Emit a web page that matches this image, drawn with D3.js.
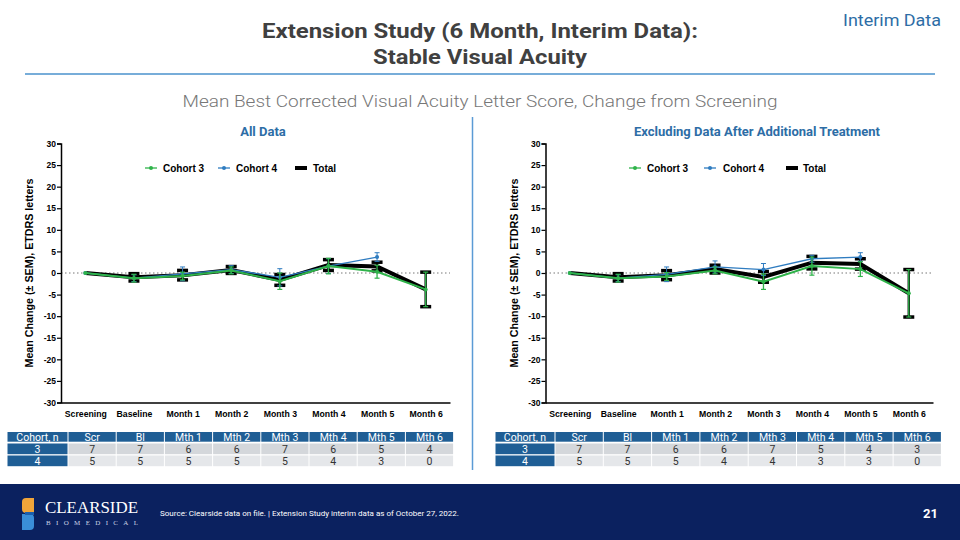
<!DOCTYPE html>
<html><head><meta charset="utf-8">
<script src="https://cdn.jsdelivr.net/npm/d3@7/dist/d3.min.js"></script>
<style>
html,body{margin:0;padding:0;background:#fff;}
svg{display:block;}
</style></head>
<body>
<svg id="c" width="960" height="540"></svg>
<script>
// ---------- DATA ----------
const categories = ["Screening","Baseline","Month 1","Month 2","Month 3","Month 4","Month 5","Month 6"];
const yTicks = [-30,-25,-20,-15,-10,-5,0,5,10,15,20,25,30];
const seriesNames = ["Cohort 3","Cohort 4","Total"];

// All Data
const allC3    = [0, -1.2, -0.7, 0.6, -1.9, 1.6, 0.3, -3.8];
const allC3Sem = [0, 0.9, 0.9, 0.8, 1.9, 1.8, 1.5, 4.0];
const allC4    = [0, -1.2, -0.2, 0.8, -1.0, 1.6, 3.7, null];
const allC4Sem = [0, 0.8, 1.6, 0.9, 2.0, 1.7, 1.0, null];
const allTot   = [0, -1.0, -0.5, 0.7, -1.6, 1.85, 1.5, -3.8];
const allTotSem= [0, 0.85, 1.1, 0.8, 1.25, 1.25, 1.0, 4.0];

// Excluding Data After Additional Treatment
const exC3    = [0, -1.2, -0.8, 0.6, -2.0, 1.6, 0.9, -4.7];
const exC3Sem = [0, 0.9, 0.9, 0.8, 1.8, 2.1, 1.7, 5.5];
const exC4    = [0, -1.2, -0.3, 1.4, 0.8, 3.3, 3.7, null];
const exC4Sem = [0, 0.8, 1.7, 1.4, 1.4, 0.8, 1.0, null];
const exTot   = [0, -1.0, -0.5, 0.9, -0.9, 2.4, 2.1, -4.7];
const exTotSem= [0, 0.85, 1.05, 0.9, 1.25, 1.45, 1.2, 5.5];

// n tables
const tableHeader = ["Cohort, n","Scr","Bl","Mth 1","Mth 2","Mth 3","Mth 4","Mth 5","Mth 6"];
const tableRowLabels = ["3","4"];
const allN3 = [7,7,6,6,7,6,5,4];
const allN4 = [5,5,5,5,5,4,3,0];
const exN3  = [7,7,6,6,7,5,4,3];
const exN4  = [5,5,5,4,4,3,3,0];

// ---------- STYLE ----------
const GREEN = "#2fb34a", BLUE = "#2f7cc0", BLACK = "#000";
const TITLE_BLUE = "#2d6da6", NAVY = "#0b215f", HEAD_BLUE = "#1f5e95";
const svg = d3.select("#c");

// ---------- HEADER ----------
svg.append("text").attr("x",480).attr("y",38).attr("text-anchor","middle")
  .attr("font-family","Roboto").attr("font-weight","700").attr("font-size",21).attr("fill","#404040")
  .attr("textLength",436).attr("lengthAdjust","spacingAndGlyphs")
  .text("Extension Study (6 Month, Interim Data):");
svg.append("text").attr("x",480).attr("y",64).attr("text-anchor","middle")
  .attr("font-family","Roboto").attr("font-weight","700").attr("font-size",21).attr("fill","#404040")
  .attr("textLength",214).attr("lengthAdjust","spacingAndGlyphs")
  .text("Stable Visual Acuity");
svg.append("text").attr("x",941).attr("y",26).attr("text-anchor","end")
  .attr("font-family","Roboto").attr("font-size",16).attr("fill",TITLE_BLUE)
  .attr("textLength",98).attr("lengthAdjust","spacingAndGlyphs")
  .text("Interim Data");
svg.append("line").attr("x1",25).attr("x2",935).attr("y1",74).attr("y2",74)
  .attr("stroke","#4a92cc").attr("stroke-width",1.5);
svg.append("text").attr("x",480).attr("y",107).attr("text-anchor","middle")
  .attr("font-family","Roboto").attr("font-weight","300").attr("font-size",17).attr("fill","#777")
  .attr("textLength",595).attr("lengthAdjust","spacingAndGlyphs")
  .text("Mean Best Corrected Visual Acuity Letter Score, Change from Screening");
svg.append("line").attr("x1",472.5).attr("x2",472.5).attr("y1",117).attr("y2",470)
  .attr("stroke","#5b9bd5").attr("stroke-width",1.5);

// ---------- CHART ----------
function drawChart(o){
  const g = svg.append("g");
  const x = d3.scalePoint().domain(categories).range([o.x0, o.x1]).padding(0.5);
  const y = d3.scaleLinear().domain([-30,30]).range([402.5,143.5]);

  g.append("text").attr("x",o.titleX).attr("y",136).attr("text-anchor","middle")
    .attr("font-family","Roboto").attr("font-weight","700").attr("font-size",13).attr("fill",TITLE_BLUE)
    .text(o.title);

  // zero line
  g.append("line").attr("x1",o.x0).attr("x2",o.x1).attr("y1",y(0)).attr("y2",y(0))
    .attr("stroke","#777").attr("stroke-width",1).attr("stroke-dasharray","1.5,2.5");

  // axes
  const ya = g.append("g").attr("transform",`translate(${o.x0},0)`)
    .call(d3.axisLeft(y).tickValues(yTicks).tickSize(4).tickFormat(d=>String(d)));
  ya.select(".domain").attr("stroke","#000").attr("stroke-width",1.5);
  ya.selectAll(".tick line").attr("stroke","#000").attr("stroke-width",1.2);
  ya.selectAll(".tick text").attr("font-family","Liberation Sans, Arial").attr("font-weight","700")
    .attr("font-size",8.5).attr("fill","#000").attr("x",-5);
  const xa = g.append("g").attr("transform",`translate(0,${y(-30)})`)
    .call(d3.axisBottom(x).tickSize(0).tickSizeOuter(0));
  xa.select(".domain").attr("stroke","#000").attr("stroke-width",1.5);
  xa.selectAll(".tick text").attr("font-family","Liberation Sans, Arial").attr("font-weight","700")
    .attr("font-size",8.7).attr("fill","#000").attr("dy","1.3em");

  g.append("text").attr("transform",`translate(${o.x0-28},${y(0)}) rotate(-90)`)
    .attr("text-anchor","middle").attr("font-family","Liberation Sans, Arial").attr("font-weight","700")
    .attr("font-size",10).attr("fill","#000")
    .attr("textLength",189).attr("lengthAdjust","spacingAndGlyphs")
    .text("Mean Change (± SEM), ETDRS letters");

  // series
  const series = [
    {name:"Total", v:o.tot, s:o.totSem, color:BLACK, lw:4, ew:2.4, cap:11, capw:3.5, r:0},
    {name:"Cohort 4", v:o.c4, s:o.c4Sem, color:BLUE, lw:1.3, ew:1, cap:5, capw:1, r:2},
    {name:"Cohort 3", v:o.c3, s:o.c3Sem, color:GREEN, lw:2, ew:1.3, cap:5, capw:1.2, r:2}
  ];
  series.forEach(sr=>{
    const pts = categories.map((c,i)=>({c, v:sr.v[i], s:sr.s[i]})).filter(p=>p.v!==null);
    const sg = g.append("g");
    pts.filter(p=>p.s>0).forEach(p=>{
      sg.append("line").attr("x1",x(p.c)).attr("x2",x(p.c)).attr("y1",y(p.v-p.s)).attr("y2",y(p.v+p.s))
        .attr("stroke",sr.color).attr("stroke-width",sr.ew);
      [p.v-p.s,p.v+p.s].forEach(e=>{
        sg.append("line").attr("x1",x(p.c)-sr.cap/2).attr("x2",x(p.c)+sr.cap/2).attr("y1",y(e)).attr("y2",y(e))
          .attr("stroke",sr.color).attr("stroke-width",sr.capw);
      });
    });
    sg.append("path").datum(pts)
      .attr("d",d3.line().x(p=>x(p.c)).y(p=>y(p.v)))
      .attr("fill","none").attr("stroke",sr.color).attr("stroke-width",sr.lw).attr("stroke-linejoin","miter");
    if(sr.r>0){
      sg.selectAll("circle").data(pts).join("circle")
        .attr("cx",p=>x(p.c)).attr("cy",p=>y(p.v)).attr("r",sr.r).attr("fill",sr.color);
    }
  });

  // legend
  const leg = [
    {name:"Cohort 3", color:GREEN, lx:o.leg[0], tx:o.leg[1], type:"pt"},
    {name:"Cohort 4", color:BLUE, lx:o.leg[2], tx:o.leg[3], type:"pt"},
    {name:"Total", color:BLACK, lx:o.leg[4], tx:o.leg[5], type:"thick"}
  ];
  leg.forEach(l=>{
    if(l.type==="pt"){
      g.append("line").attr("x1",l.lx).attr("x2",l.lx+12).attr("y1",168).attr("y2",168)
        .attr("stroke",l.color).attr("stroke-width",1.3);
      g.append("circle").attr("cx",l.lx+6).attr("cy",168).attr("r",2).attr("fill",l.color);
    } else {
      g.append("line").attr("x1",l.lx).attr("x2",l.lx+12).attr("y1",168).attr("y2",168)
        .attr("stroke",l.color).attr("stroke-width",4);
    }
    g.append("text").attr("x",l.tx).attr("y",171.5).attr("font-family","Liberation Sans, Arial")
      .attr("font-weight","700").attr("font-size",10).attr("fill","#000").text(l.name);
  });
}

drawChart({x0:61, x1:450, titleX:263, title:"All Data",
  c3:allC3, c3Sem:allC3Sem, c4:allC4, c4Sem:allC4Sem, tot:allTot, totSem:allTotSem,
  leg:[145,163,218,236,295,313]});
drawChart({x0:545.5, x1:933, titleX:757, title:"Excluding Data After Additional Treatment",
  c3:exC3, c3Sem:exC3Sem, c4:exC4, c4Sem:exC4Sem, tot:exTot, totSem:exTotSem,
  leg:[629,647,704,723,786,803]});

// ---------- TABLES ----------
function drawTable(x0, firstW, colW, n3, n4){
  const g = svg.append("g");
  const rows = [tableHeader, [tableRowLabels[0], ...n3], [tableRowLabels[1], ...n4]];
  const rowY = [432, 443.5, 455.5], rowH = [10.5, 11.5, 11.5];
  rows.forEach((r,ri)=>{
    r.forEach((cell,ci)=>{
      const cx = ci===0 ? x0 : x0+firstW+(ci-1)*colW;
      const w = ci===0 ? firstW : colW;
      const isHead = ri===0 || ci===0;
      const fill = isHead ? HEAD_BLUE : (ri===1 ? "#d4d7db" : "#e5e7ea");
      g.append("rect").attr("x",cx+0.5).attr("y",rowY[ri]).attr("width",w-1).attr("height",rowH[ri]-0.8)
        .attr("fill",fill);
      g.append("text").attr("x",cx+w/2).attr("y",rowY[ri]+rowH[ri]/2+3.5).attr("text-anchor","middle")
        .attr("font-family","Roboto").attr("font-size",10.5).attr("fill",isHead?"#fff":"#333")
        .text(cell);
    });
  });
}
drawTable(7, 61, 48.2, allN3, allN4);
drawTable(495, 60, 48.3, exN3, exN4);

// ---------- FOOTER ----------
svg.append("rect").attr("x",0).attr("y",484).attr("width",960).attr("height",56).attr("fill",NAVY);
// logo mark
const lg = svg.append("g");
lg.append("path").attr("d","M34,498 L26,498 Q22,498 22,502 L22,509 Q22,513 26,513 L34,513 Z").attr("fill","#f0a43a");
lg.append("path").attr("d","M22,514 L30,514 Q34,514 34,518 L34,526 Q34,530 30,530 L22,530 Z").attr("fill","#3a8ed8");
lg.append("rect").attr("x",25).attr("y",512).attr("width",9).attr("height",3).attr("fill","#1c5fae");
svg.append("text").attr("x",45).attr("y",512.5).attr("font-family","Liberation Serif, DejaVu Serif, serif")
  .attr("font-size",16).attr("fill","#fff").attr("textLength",93).attr("lengthAdjust","spacingAndGlyphs")
  .text("CLEARSIDE");
svg.append("text").attr("x",46).attr("y",524.5).attr("font-family","Liberation Serif, serif")
  .attr("font-size",7).attr("fill","#c9d3e6").attr("textLength",92).attr("lengthAdjust","spacing")
  .text("BIOMEDICAL");
svg.append("text").attr("x",160).attr("y",516).attr("font-family","Roboto").attr("font-size",7.5)
  .attr("fill","#fff").attr("textLength",299).attr("lengthAdjust","spacingAndGlyphs")
  .text("Source: Clearside data on file.  | Extension Study interim data as of October 27, 2022.");
svg.append("text").attr("x",938).attr("y",518).attr("text-anchor","end").attr("font-family","Roboto")
  .attr("font-weight","700").attr("font-size",13).attr("fill","#fff").text("21");
</script>
</body></html>
